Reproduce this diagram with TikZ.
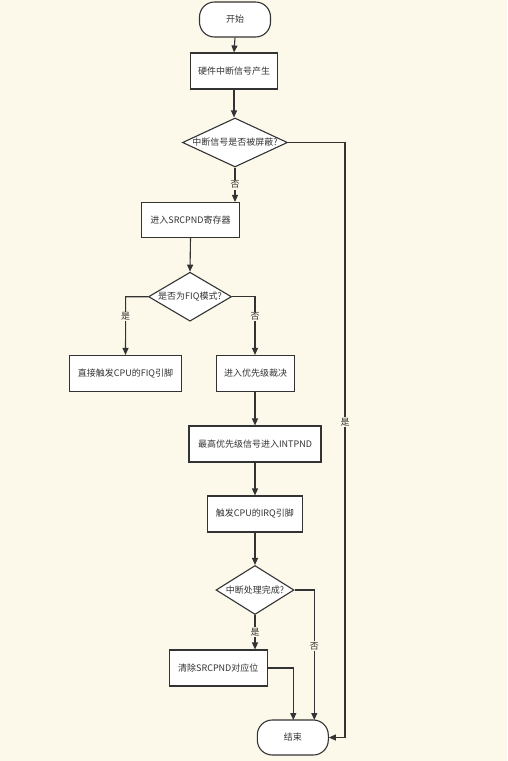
\documentclass[tikz,border=0pt]{standalone}
\usepackage{fontspec}
\setmainfont{Noto Sans CJK SC}
\usetikzlibrary{arrows.meta,shapes.geometric,calc}
\definecolor{bg}{HTML}{FCF8EA}
\definecolor{ink}{HTML}{333333}
\begin{document}
\begin{tikzpicture}[x=1pt,y=-1pt,
  every node/.style={font=\fontsize{9}{10}\selectfont, text=ink},
  box/.style={draw=ink, line width=1.1pt, fill=white, inner sep=0pt, minimum height=36pt},
  term/.style={draw=ink, line width=1.1pt, fill=white, rounded corners=15pt, inner sep=0pt, minimum width=71pt, minimum height=35pt},
  dia/.style={draw=ink, line width=1.1pt, fill=white, diamond, inner sep=0pt},
  arr/.style={draw=ink, line width=1.1pt, -{Triangle[length=7pt,width=6pt]}},
  lab/.style={fill=bg, inner sep=1pt}]
\useasboundingbox[fill=bg] (0,0) rectangle (507,761);
\node[term] (start) at (235,19.5) {开始};
\node[box, minimum width=87pt] (hw) at (234,71) {硬件中断信号产生};
\node[dia, minimum width=105pt, minimum height=49pt] (d1) at (235,142.5) {};
\node (d1t) at (d1.center) {中断信号是否被屏蔽?};
\node[box, minimum width=98pt, minimum height=35pt] (src) at (190.5,220) {进入SRCPND寄存器};
\node[dia, minimum width=83pt, minimum height=49pt] (d2) at (190,296.7) {};
\node (d2t) at (d2.center) {是否为FIQ模式?};
\node[box, minimum width=112pt] (fiq) at (125.5,373.5) {直接触发CPU的FIQ引脚};
\node[box, minimum width=78pt] (pri) at (255.5,373.5) {进入优先级裁决};
\node[box, minimum width=132pt] (intp) at (255,444) {最高优先级信号进入INTPND};
\node[box, minimum width=95pt] (irq) at (254.8,514) {触发CPU的IRQ引脚};
\node[dia, minimum width=78pt, minimum height=49pt] (d3) at (255,590) {};
\node (d3t) at (d3.center) {中断处理完成?};
\node[box, minimum width=98pt] (clr) at (218.3,668) {清除SRCPND对应位};
\node[term] (end) at (292.8,737.5) {结束};

\coordinate (r1) at (345,142.5);
\coordinate (l2) at (125.7,296.7);
\coordinate (r2) at (255,296.7);
\coordinate (r3) at (314.3,590);
\coordinate (e2) at (314.3,720);
\coordinate (e1) at (293.3,720);

\draw[arr] (start.south) -- (hw.north);
\draw[arr] (hw.south) -- (hw.south |- d1.north);
\draw[arr] (d1.south) -- node[lab, pos=0.5] {否} (d1.south |- src.north);
\draw[arr] (src.south) -- (d2.north);
\draw[arr] (d2.west) -- (l2) -- node[lab, pos=0.34] {是} (fiq.north);
\draw[arr] (d2.east) -- (r2) -- node[lab, pos=0.34] {否} (r2 |- pri.north);
\draw[arr] (pri.south -| intp.north) -- (intp.north);
\draw[arr] (intp.south) -- (intp.south |- irq.north);
\draw[arr] (irq.south -| d3.north) -- (d3.north);
\draw[arr] (d3.south) -- node[lab, pos=0.5] {是} (d3.south |- clr.north);
\draw[arr] (d3.east) -- (r3) -- node[lab, pos=0.43] {否} (e2);
\draw[arr] (clr.east) -| (e1);
\draw[arr] (d1.east) -- (r1) -- node[lab, pos=0.47] {是} (r1 |- end.east) -- (end.east);
\end{tikzpicture}
\end{document}
